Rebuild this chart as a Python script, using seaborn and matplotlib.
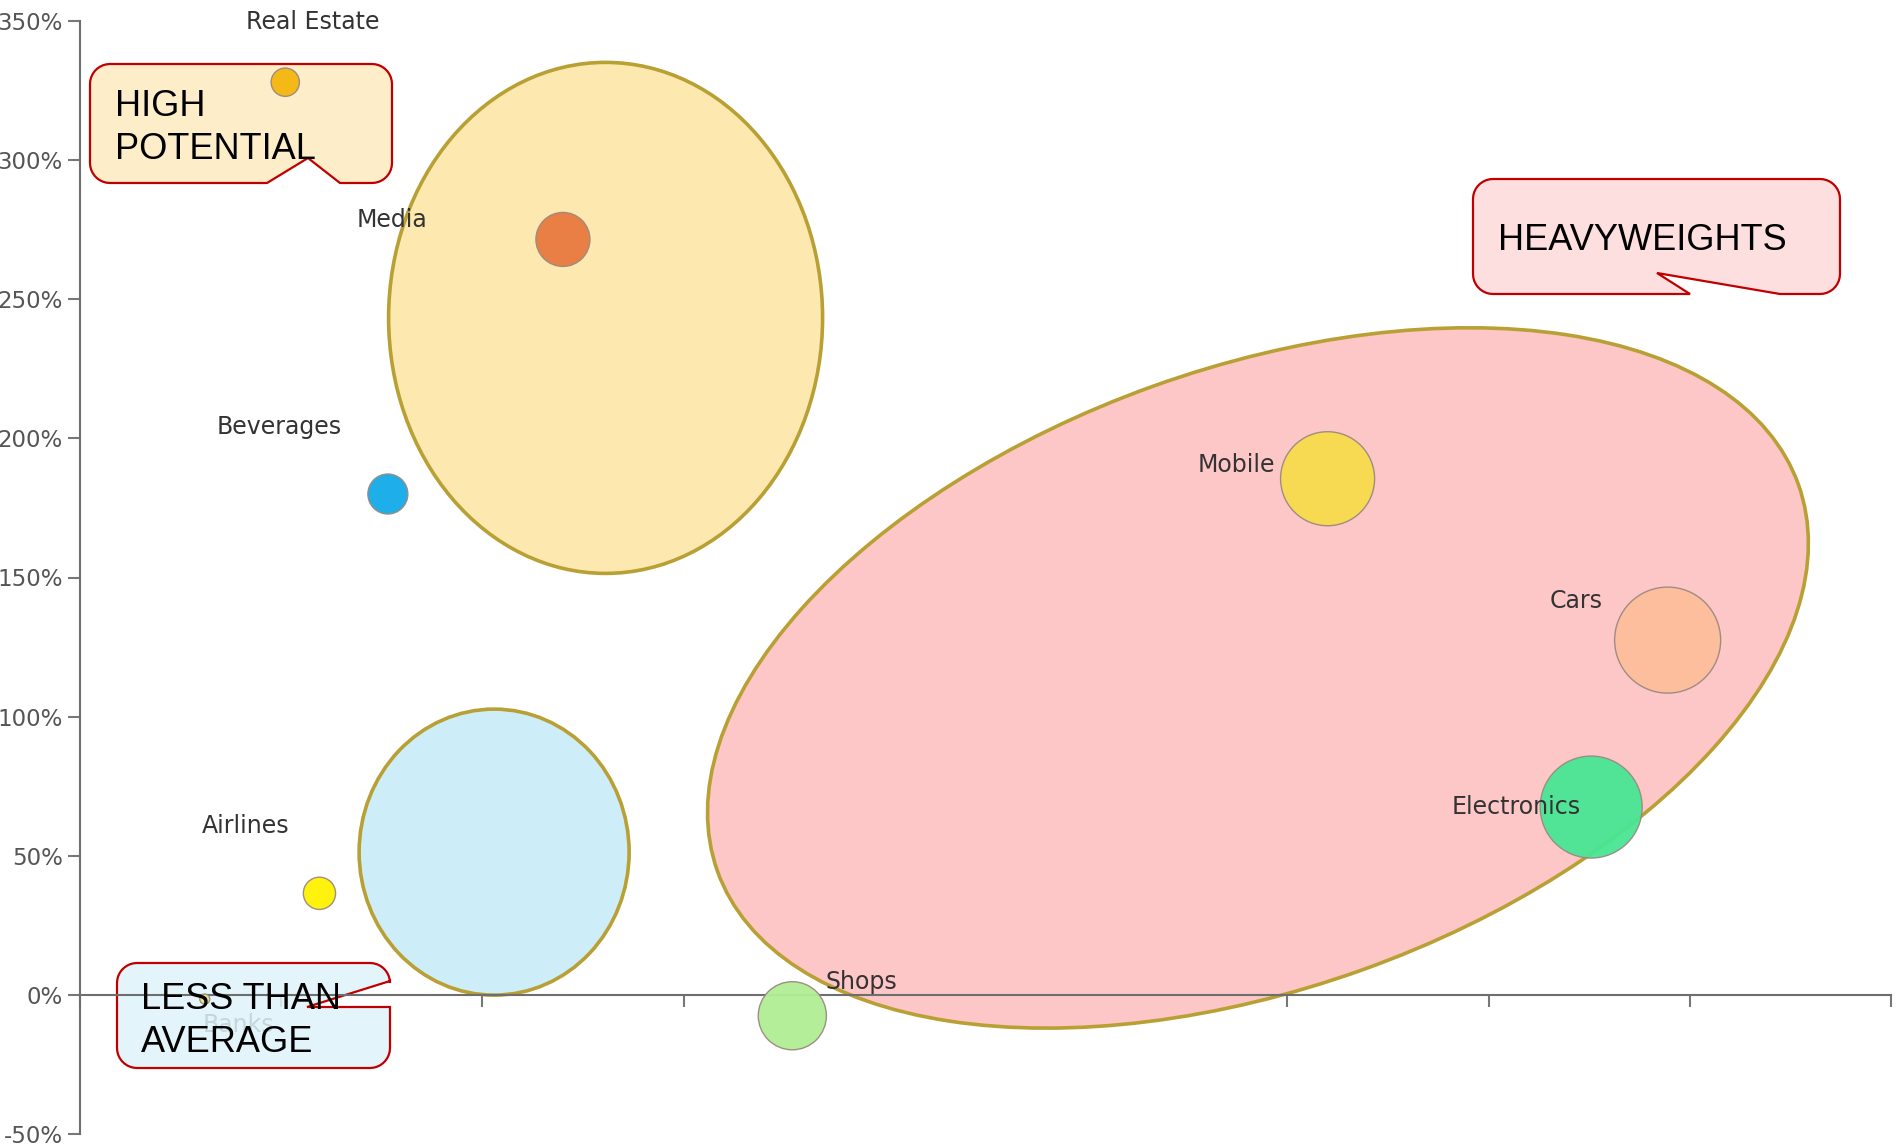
import matplotlib

matplotlib.use("Agg")

import matplotlib.pyplot as plt
import numpy as np
import pandas as pd
import seaborn as sns
from matplotlib.colors import to_rgba
from matplotlib.patches import Ellipse, Polygon
from matplotlib.transforms import ScaledTranslation

sns.set_theme(style="white")
plt.rcParams["font.family"] = ["DejaVu Sans"]

# sector bubbles
SECTORS = ["Real Estate", "Media", "Beverages", "Airlines", "Banks",
           "Shops", "Mobile", "Cars", "Electronics"]
SHARE = [5.1, 12.0, 7.65, 5.95, 3.1, 17.7, 31.0, 39.45, 37.55]
GROWTH = [328, 271.5, 180, 36.5, -1.5, -7.5, 185.5, 127.5, 67.5]
VOLUME = [20, 73, 40, 26, 2.5, 116, 221, 281, 260]
COLORS = ["#F4B60C", "#E9793F", "#12AAE8", "#FFF200", "#EDE58A",
          "#B0EE94", "#F8DC4C", "#FDBE9C", "#48E694"]

Y_TICKS = [-50, 0, 50, 100, 150, 200, 250, 300, 350]
X_TICKS = [0, 5, 10, 15, 20, 25, 30, 35, 40, 45]

# highlighted groups (ellipse centres)
GROUP_SHARE = [13.06, 29.27, 10.29]
GROUP_GROWTH = [243.3, 113.9, 51.3]
GROUP_FILL = ["#FDE9B0", "#FDC6C7", "#CDEDF9"]
GROUP_SHAPE = [(4.34, 5.11, 0), (11.48, 6.20, 19.7), (2.70, 2.86, 0)]  # inches

# label offsets in points (dx, dy)
LABEL_OFFSETS = {
    "Real Estate": (20, 43), "Media": (-123, 14), "Beverages": (-78, 48.5),
    "Airlines": (-53, 48.5), "Banks": (24, -19), "Shops": (50, 24),
    "Mobile": (-66, 10), "Cars": (-66, 28.5), "Electronics": (-54, 0),
}
# labels sitting under a callout box
COVERED_LABELS = {"Banks"}

FIG_W, FIG_H = 1897, 1147

# callouts in figure pixels (top-left origin); pos = left / last baseline
CALLOUTS = [
    dict(text="HIGH\nPOTENTIAL", box=(90, 64, 392, 183), edge="bottom",
         notch=[(340, 183), (308, 158), (267, 183)], fill="#FDEBC0",
         pos=(115, 159)),
    dict(text="HEAVYWEIGHTS", box=(1473, 179, 1840, 294), edge="bottom",
         notch=[(1780, 294), (1657, 273), (1690, 294)], fill="#FDDADB",
         pos=(1498, 250)),
    dict(text="LESS THAN\nAVERAGE", box=(117, 963, 390, 1068), edge="right",
         notch=[(390, 981), (307, 1007), (390, 1007)], fill="#DFF3FB",
         pos=(141, 1052)),
]


def callout_outline(box, r, notch, edge):
    x0, y0, x1, y1 = box

    def arc(cx, cy, a0, a1):
        t = np.radians(np.linspace(a0, a1, 10))
        return list(zip(cx + r * np.cos(t), cy + r * np.sin(t)))

    pts = arc(x0 + r, y0 + r, 180, 270) + arc(x1 - r, y0 + r, 270, 360)
    if edge == "right":
        pts += notch
    pts += arc(x1 - r, y1 - r, 0, 90)
    if edge == "bottom":
        pts += notch
    pts += arc(x0 + r, y1 - r, 90, 180)
    return [(x / 100, (FIG_H - y) / 100) for x, y in pts]


df = pd.DataFrame({"sector": SECTORS, "share": SHARE, "growth": GROWTH,
                   "volume": VOLUME})

fig = plt.figure(figsize=(FIG_W / 100, FIG_H / 100), dpi=100)
ax = fig.add_axes([80 / FIG_W, 13 / FIG_H, 1811 / FIG_W, 1113 / FIG_H])

for x, y, fill, (w, h, ang) in zip(GROUP_SHARE, GROUP_GROWTH, GROUP_FILL,
                                   GROUP_SHAPE):
    trans = fig.dpi_scale_trans + ScaledTranslation(x, y, ax.transData)
    ax.add_patch(Ellipse((0, 0), w, h, angle=ang, transform=trans,
                         facecolor=fill, edgecolor="#B9A034", lw=2.6, zorder=1))

k = 20.736  # points^2 per volume unit
sns.scatterplot(data=df, x="share", y="growth", hue="sector", size="volume",
                palette=dict(zip(SECTORS, COLORS)),
                sizes=(k * min(VOLUME), k * max(VOLUME)),
                size_norm=(min(VOLUME), max(VOLUME)),
                edgecolor="#9A8A80", linewidth=1.0, alpha=0.95,
                legend=False, zorder=3, ax=ax)

for name, x, y in zip(SECTORS, SHARE, GROWTH):
    ax.annotate(name, (x, y), xytext=LABEL_OFFSETS[name],
                textcoords="offset points", ha="center", va="center",
                fontsize=17, color="#333333",
                zorder=2.1 if name in COVERED_LABELS else 4)

ax.set_xlim(X_TICKS[0], X_TICKS[-1])
ax.set_ylim(Y_TICKS[0], Y_TICKS[-1])
ax.set_xticks(X_TICKS)
ax.set_yticks(Y_TICKS)
ax.set_yticklabels([f"{v}%" for v in Y_TICKS])
ax.tick_params(axis="x", labelbottom=False)
ax.tick_params(direction="out", length=8.6, width=1.5, color="#777777",
               labelsize=16.5, labelcolor="#555555", pad=3.6,
               left=True, bottom=True)
ax.set_xlabel("")
ax.set_ylabel("")
for side in ("top", "right"):
    ax.spines[side].set_visible(False)
ax.spines["bottom"].set_position(("data", 0))
for side in ("left", "bottom"):
    ax.spines[side].set_color("#6E6E6E")
    ax.spines[side].set_linewidth(1.5)

for c in CALLOUTS:
    pts = callout_outline(c["box"], 20, c["notch"], c["edge"])
    ax.add_patch(Polygon(pts, closed=True, transform=fig.dpi_scale_trans,
                         facecolor=to_rgba(c["fill"], 0.85),
                         edgecolor="#C00000", lw=1.6, zorder=2.2,
                         clip_on=False))
    ax.text(c["pos"][0] / 100, (FIG_H - c["pos"][1]) / 100, c["text"],
            transform=fig.dpi_scale_trans, ha="left", va="baseline",
            fontsize=26, family=["Liberation Sans", "DejaVu Sans"],
            color="black", linespacing=1.31, zorder=6, clip_on=False)

fig.savefig("out.png", dpi=100)
